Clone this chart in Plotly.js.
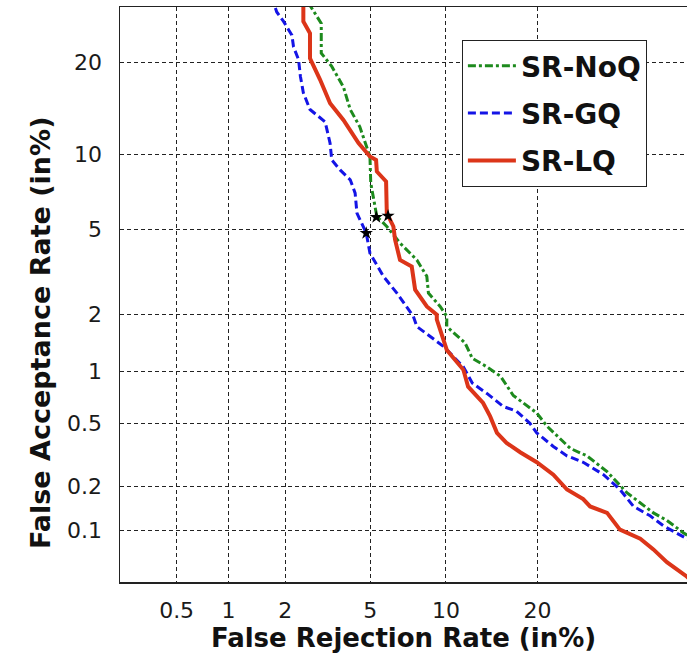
<!DOCTYPE html>
<html>
<head>
<meta charset="utf-8">
<script src="https://cdn.plot.ly/plotly-3.0.1.min.js"></script>
<style>html,body{margin:0;padding:0;background:#fff;overflow:hidden}#chart{width:687px;height:656px}</style>
</head>
<body>
<div id="chart"></div>
<script>
// Tick values (in %)
const ticksFRR = [0.5, 1, 2, 5, 10, 20];
const ticksFAR = [0.1, 0.2, 0.5, 1, 2, 5, 10, 20];

// SR-NoQ (green dash-dot): FRR %, FAR %
const frrNoQ = [2.6, 3.0, 3.0, 3.36, 3.8, 4.08, 4.5, 4.83, 4.98, 5.02, 5.24, 5.33, 5.87, 6.65, 7.76, 8.48, 8.6, 9.52, 10.07, 10.07, 11.7, 12.4, 13.9, 15.4, 16.9, 19.9, 21.3, 24.7, 27.3, 30.6, 34.0, 38.8, 41.3, 44.4, 47.6];
const farNoQ = [29, 25.7, 21.3, 19.5, 16.9, 14.3, 12.5, 10.65, 9.8, 7.77, 6.26, 5.69, 5.16, 4.37, 3.67, 3.08, 2.56, 2.2, 1.96, 1.74, 1.43, 1.18, 1.06, 0.94, 0.73, 0.576, 0.48, 0.35, 0.314, 0.249, 0.181, 0.132, 0.117, 0.096, 0.080];

// SR-GQ (blue dashed)
const frrGQ = [1.7, 1.81, 1.96, 2.16, 2.2, 2.33, 2.38, 2.46, 2.65, 3.13, 3.30, 3.36, 3.67, 4.08, 4.29, 4.37, 4.80, 4.98, 5.68, 6.46, 7.52, 7.76, 9.78, 11.55, 12.4, 13.9, 15.7, 17.3, 19.0, 19.9, 22.2, 24.2, 26.7, 30.0, 32.8, 35.2, 38.2, 40.7, 45.1, 47.6];
const farGQ = [30, 27.5, 26.0, 23.9, 22.2, 20.4, 18.2, 16.2, 14.3, 13.0, 10.96, 9.52, 8.73, 8.0, 7.09, 5.88, 4.83, 3.94, 3.08, 2.56, 1.96, 1.74, 1.37, 1.06, 0.86, 0.75, 0.63, 0.59, 0.50, 0.437, 0.36, 0.314, 0.286, 0.238, 0.19, 0.146, 0.126, 0.107, 0.087, 0.076];

// SR-LQ (red solid)
const frrLQ = [2.46, 2.46, 2.65, 2.65, 2.96, 3.30, 3.8, 4.44, 4.98, 5.29, 5.33, 5.83, 5.87, 6.25, 6.35, 6.65, 7.41, 7.64, 8.48, 9.25, 9.25, 9.65, 10.07, 11.55, 12.0, 13.5, 14.25, 15.0, 16.1, 17.8, 19.9, 22.2, 24.2, 26.7, 27.8, 30.6, 32.8, 36.4, 38.8, 41.3, 45.1, 47.6];
const farLQ = [29, 26.0, 24.2, 20.6, 17.8, 15.0, 13.2, 10.96, 9.8, 9.52, 8.61, 7.88, 5.88, 5.16, 4.52, 3.67, 3.42, 2.66, 2.2, 2.0, 1.89, 1.55, 1.31, 1.02, 0.82, 0.66, 0.55, 0.437, 0.379, 0.33, 0.286, 0.238, 0.19, 0.164, 0.146, 0.132, 0.101, 0.087, 0.073, 0.059, 0.046, 0.037];

// Equal error rate points (GQ, NoQ, LQ)
const eerFRR = [4.8, 5.3, 5.94];
const eerFAR = [4.83, 5.65, 5.72];

// Visible axis extents (in %)
const xExtent = [0.22, 45.1];
const yExtent = [0.042, 28.3];

// Normal deviate (probit) transform for the DET scale
function probit(p) {
  const a = [-3.969683028665376e+01, 2.209460984245205e+02, -2.759285104469687e+02, 1.383577518672690e+02, -3.066479806614716e+01, 2.506628277459239e+00];
  const b = [-5.447609879822406e+01, 1.615858368580409e+02, -1.556989798598866e+02, 6.680131188771972e+01, -1.328068155288572e+01];
  const c = [-7.784894002430293e-03, -3.223964580411365e-01, -2.400758277161838e+00, -2.549671010115304e+00, 4.374664141464968e+00, 2.938163982698783e+00];
  const d = [7.784695709041462e-03, 3.224671290700398e-01, 2.445134137142996e+00, 3.754408661907416e+00];
  const pl = 0.02425, ph = 1 - pl;
  let q, r;
  if (p < pl) {
    q = Math.sqrt(-2 * Math.log(p));
    return (((((c[0]*q+c[1])*q+c[2])*q+c[3])*q+c[4])*q+c[5]) / ((((d[0]*q+d[1])*q+d[2])*q+d[3])*q+1);
  }
  if (p <= ph) {
    q = p - 0.5; r = q * q;
    return (((((a[0]*r+a[1])*r+a[2])*r+a[3])*r+a[4])*r+a[5])*q / (((((b[0]*r+b[1])*r+b[2])*r+b[3])*r+b[4])*r+1);
  }
  q = Math.sqrt(-2 * Math.log(1 - p));
  return -(((((c[0]*q+c[1])*q+c[2])*q+c[3])*q+c[4])*q+c[5]) / ((((d[0]*q+d[1])*q+d[2])*q+d[3])*q+1);
}
const dev = arr => arr.map(v => probit(v / 100));
const fmt = v => String(v);

const FONT = 'DejaVu Sans';

const traces = [
  {x: dev(frrNoQ), y: dev(farNoQ), name: 'SR-NoQ', mode: 'lines',
   line: {color: '#1d8a1d', width: 3, dash: '8px,3px,3px,3px'}, legendgroup: 'a'},
  {x: dev(frrGQ), y: dev(farGQ), name: 'SR-GQ', mode: 'lines',
   line: {color: '#1414e6', width: 3, dash: '8px,4px'}, legendgroup: 'b'},
  {x: dev(frrLQ), y: dev(farLQ), name: 'SR-LQ', mode: 'lines',
   line: {color: '#dc3519', width: 4}, legendgroup: 'c'},
  {x: dev(eerFRR), y: dev(eerFAR), mode: 'markers', showlegend: false,
   marker: {color: '#000', size: 10, symbol: 'star'}}
];

const layout = {
  width: 687, height: 656,
  margin: {l: 120, r: 0, t: 7, b: 74},
  paper_bgcolor: '#fff', plot_bgcolor: '#fff',
  font: {family: FONT, color: '#1a1a1a'},
  xaxis: {
    range: [probit(xExtent[0] / 100), probit(xExtent[1] / 100)],
    tickmode: 'array', tickvals: dev(ticksFRR), ticktext: ticksFRR.map(fmt),
    showgrid: true, gridcolor: '#222', gridwidth: 1, griddash: '4px,3px',
    showline: true, linecolor: '#222', linewidth: 1.5, mirror: true,
    ticks: '', zeroline: false, ticklabelstandoff: 8,
    tickfont: {family: FONT, size: 22, color: '#1a1a1a'},
    title: {text: 'False Rejection Rate (in%)', standoff: 6,
            font: {family: FONT, size: 26, weight: 'bold', color: '#111'}}
  },
  yaxis: {
    range: [probit(yExtent[0] / 100), probit(yExtent[1] / 100)],
    tickmode: 'array', tickvals: dev(ticksFAR), ticktext: ticksFAR.map(fmt),
    showgrid: true, gridcolor: '#222', gridwidth: 1, griddash: '4px,3px',
    showline: true, linecolor: '#222', linewidth: 1.5, mirror: false,
    ticks: '', zeroline: false, ticklabelstandoff: 12,
    tickfont: {family: FONT, size: 22, color: '#1a1a1a'}
  },
  annotations: [{
    text: 'False Acceptance Rate (in%)', textangle: -90, showarrow: false,
    xref: 'paper', yref: 'paper', x: -0.141, y: 0.433, xanchor: 'center', yanchor: 'middle',
    font: {family: FONT, size: 27, weight: 'bold', color: '#111'}
  }],
  showlegend: true,
  legend: {
    x: 0.603, y: 0.9426, xanchor: 'left', yanchor: 'top',
    bgcolor: '#fff', bordercolor: '#222', borderwidth: 1,
    font: {family: FONT, size: 28, weight: 'bold', color: '#111'},
    itemwidth: 48, tracegroupgap: 8, traceorder: 'grouped'
  }
};

Plotly.newPlot('chart', traces, layout, {displayModeBar: false, staticPlot: true});
</script>
</body>
</html>
